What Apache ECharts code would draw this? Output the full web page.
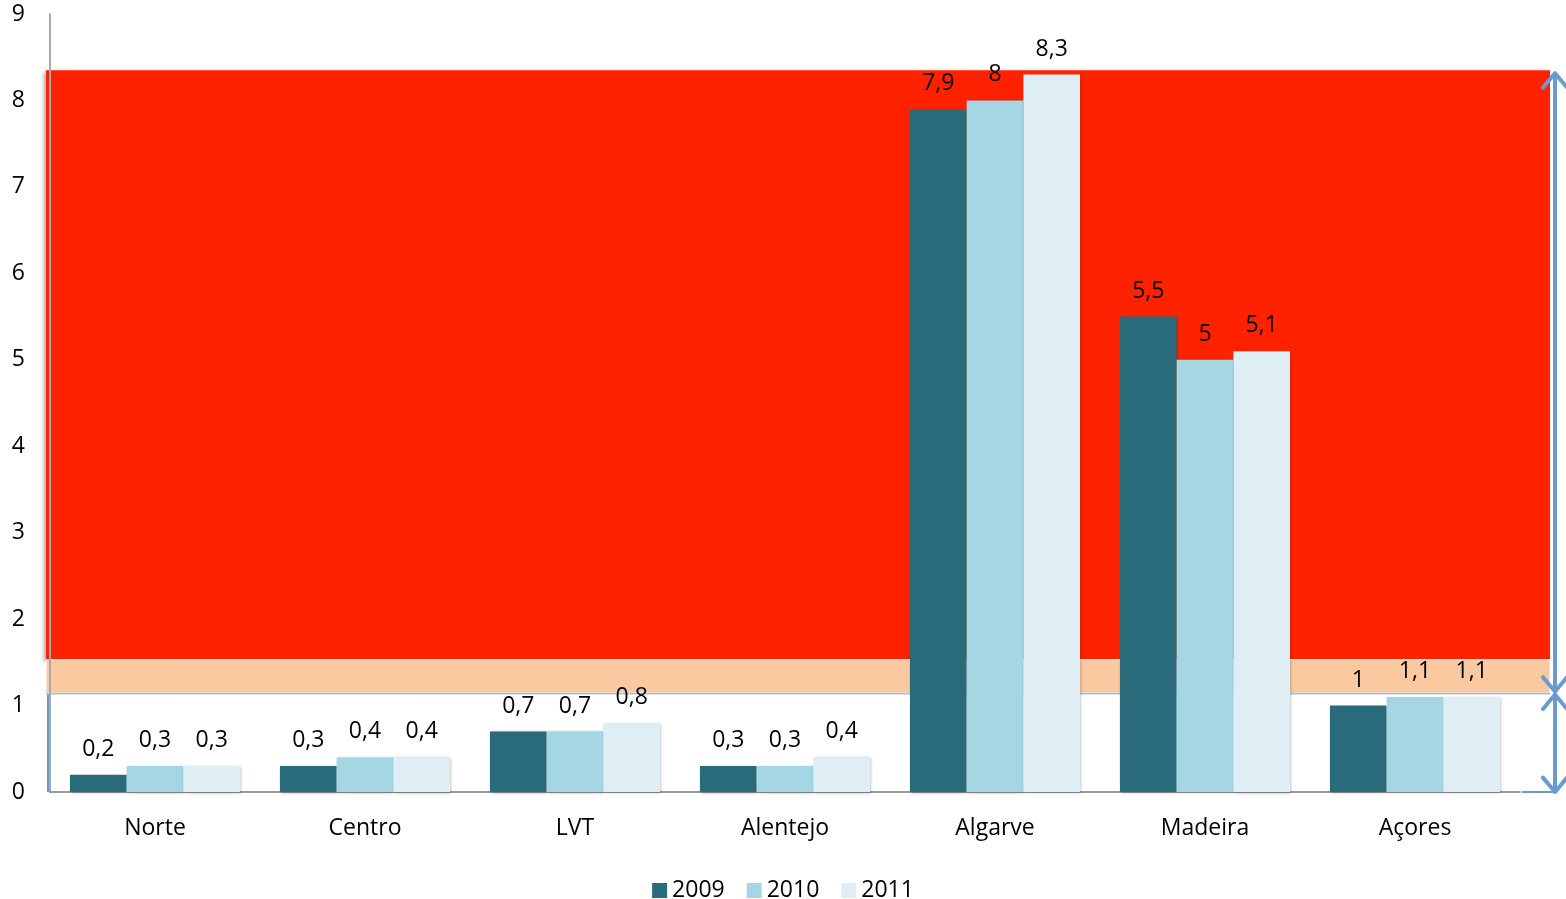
<!DOCTYPE html>
<html>
<head>
<meta charset="utf-8">
<script src="https://cdn.jsdelivr.net/npm/echarts@6/dist/echarts.min.js"></script>
<style>
html,body{margin:0;padding:0;background:#fff;}
#chart{width:1566px;height:899px;}
</style>
</head>
<body>
<div id="chart"></div>
<script>
var regions = ["Norte","Centro","LVT","Alentejo","Algarve","Madeira","Açores"];
var years = ["2009","2010","2011"];
var v2009 = [0.2,0.3,0.7,0.3,7.9,5.5,1];
var v2010 = [0.3,0.4,0.7,0.3,8,5,1.1];
var v2011 = [0.3,0.4,0.8,0.4,8.3,5.1,1.1];
var yTicks = [0,1,2,3,4,5,6,7,8,9];
// background bands (value range on the y axis)
var redBand = [1.53,8.35];
var orangeBand = [1.15,1.53];

var colors = ["#296b7a","#a4d6e4","#dfeef5"];
var font = "'Open Sans', sans-serif";

function fmt(p){
    return String(p.value).replace(".",",");
}

function makeSeries(name,data,color){
    return {
        name: name,
        type: 'bar',
        data: data,
        barGap: '0%',
        barCategoryGap: '19%',
        itemStyle: {
            color: color,
            shadowColor: 'rgba(0,0,0,0.3)',
            shadowBlur: 3,
            shadowOffsetX: 1,
            shadowOffsetY: 1
        },
        label: {
            show: true,
            position: 'top',
            distance: 14,
            formatter: fmt,
            color: '#000',
            fontSize: 23,
            fontFamily: font
        }
    };
}

var chart = echarts.init(document.getElementById('chart'));
var option = {
    animation: false,
    grid: {left: 50, right: 46, top: 14, bottom: 107},
    legend: {
        data: years,
        top: 874,
        left: 'center',
        itemWidth: 15,
        itemHeight: 15,
        itemGap: 22,
        icon: 'rect',
        textStyle: {fontSize: 23, color: '#000', fontFamily: font}
    },
    xAxis: {
        type: 'category',
        data: regions,
        axisTick: {show: false},
        axisLine: {lineStyle: {color: '#999', width: 2}},
        axisLabel: {fontSize: 23, color: '#000', margin: 25, fontFamily: font}
    },
    yAxis: {
        type: 'value',
        min: yTicks[0],
        max: yTicks[yTicks.length-1],
        interval: 1,
        splitLine: {show: false},
        axisTick: {show: false},
        axisLine: {show: true, lineStyle: {color: '#aaa', width: 2}},
        axisLabel: {fontSize: 23, color: '#000', margin: 25, fontFamily: font}
    },
    series: [
        makeSeries(years[0],v2009,colors[0]),
        makeSeries(years[1],v2010,colors[1]),
        makeSeries(years[2],v2011,colors[2])
    ]
};
chart.setOption(option);

// decorative bands and arrows, placed through the y axis scale
function py(v){ return chart.convertToPixel({yAxisIndex: 0}, v); }
var xl = 46, xr = 1550, xa = 1555;
var yRedTop = py(redBand[1]), yRedBot = py(redBand[0]);
var yOrTop = py(orangeBand[1]), yOrBot = py(orangeBand[0]);
var yZero = py(0);
var arrowColor = '#6a9bcf';

function head(x,y,dir){
    var s = 12;
    return {
        type: 'polyline', z: 5,
        shape: {points: [[x-s, y+dir*s*1.2],[x,y],[x+s, y+dir*s*1.2]]},
        style: {stroke: arrowColor, lineWidth: 4, fill: null, lineCap: 'round', lineJoin: 'round'}
    };
}

chart.setOption({
    graphic: [
        {type: 'rect', z: -10, shape: {x: xl, y: yRedTop, width: xr-xl, height: yRedBot-yRedTop},
         style: {fill: '#ff2200', shadowColor: 'rgba(0,0,0,0.35)', shadowBlur: 4, shadowOffsetX: -2, shadowOffsetY: 2}},
        {type: 'rect', z: -10, shape: {x: xl, y: yRedBot, width: xr-xl, height: yOrBot-yRedBot},
         style: {fill: '#fac9a0', stroke: '#fff', lineWidth: 1}},
        {type: 'line', z: -9, shape: {x1: xl, y1: yOrBot+1, x2: xr, y2: yOrBot+1},
         style: {stroke: '#bbb', lineWidth: 2}},
        {type: 'line', z: -9, shape: {x1: 48, y1: yOrBot+2, x2: 48, y2: yZero},
         style: {stroke: '#6a9bcf', lineWidth: 2}},
        {type: 'line', z: 5, shape: {x1: 1522, y1: yZero, x2: xa, y2: yZero},
         style: {stroke: arrowColor, lineWidth: 2}},
        {type: 'line', z: 5, shape: {x1: xa, y1: yRedTop+3, x2: xa, y2: yOrBot-1},
         style: {stroke: arrowColor, lineWidth: 4}},
        head(xa, yRedTop+3, 1),
        head(xa, yOrBot-1, -1),
        {type: 'line', z: 5, shape: {x1: xa, y1: yOrBot+2, x2: xa, y2: yZero},
         style: {stroke: arrowColor, lineWidth: 4}},
        head(xa, yOrBot+2, 1),
        head(xa, yZero, -1)
    ]
});
</script>
</body>
</html>
